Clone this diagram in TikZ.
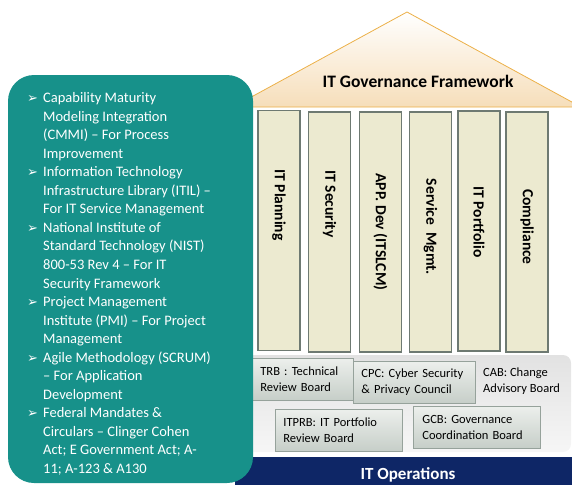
\documentclass[tikz,border=0pt]{standalone}
\usepackage{fontspec}
\setmainfont{Carlito}
\newfontfamily\symfont{DejaVu Sans}
\definecolor{tealbox}{RGB}{23,145,138}
\definecolor{roofline}{RGB}{236,176,72}
\definecolor{rooftan}{RGB}{238,196,140}
\definecolor{roofpale}{RGB}{246,222,186}
\definecolor{pillarfill}{RGB}{236,234,208}
\definecolor{pillarline}{RGB}{110,122,114}
\definecolor{navy}{RGB}{14,38,102}
\definecolor{boxtop}{RGB}{236,239,236}
\definecolor{boxbot}{RGB}{198,206,200}
\definecolor{boxline}{RGB}{150,162,155}
\definecolor{platftop}{RGB}{226,226,226}
\definecolor{platfbot}{RGB}{246,246,246}
\tikzset{
  pillar/.style={draw=pillarline, line width=1.8pt, fill=pillarfill, minimum width=42pt, minimum height=240pt, inner sep=0pt},
  ptext/.style={rotate=-90, font=\fontsize{15.5}{18}\selectfont\bfseries, inner sep=0pt},
  board/.style={draw=boxline, line width=0.8pt, top color=boxtop, bottom color=boxbot, align=left, font=\fontsize{12.5}{15.5}\selectfont, anchor=north west},
  bline/.style={text=white, font=\fontsize{14.5}{18}\selectfont, anchor=base west, inner sep=0pt},
}
\newcommand{\bul}{\makebox[16pt][l]{\symfont\fontsize{13}{15}\selectfont ➢}}
\begin{document}
\begin{tikzpicture}[x=1pt,y=-1pt]
\useasboundingbox (0,0) rectangle (572,485);
% roof
\shade[top color=white, middle color=rooftan, bottom color=roofpale, draw=roofline, line width=0.8pt]
  (233,107) -- (407,12) -- (581,107) -- cycle;
\node[font=\fontsize{17.5}{20}\selectfont\bfseries, inner sep=0pt] (roof) at (418,81) {IT Governance Framework};
% platform
\shade[rounded corners=8pt, top color=platftop, bottom color=platfbot] (238,355) rectangle (571,452);
% boards
\node[board, minimum width=108pt, minimum height=42pt, text width=78pt, inner xsep=15pt] (trb) at (245,358) {TRB : Technical\\Review Board};
\node[board, minimum width=122pt, minimum height=42pt, text width=106pt, inner xsep=8pt] (cpc) at (353,361) {CPC: Cyber Security\\\& Privacy Council};
\node[align=left, font=\fontsize{12.5}{15.5}\selectfont, anchor=west, inner sep=0pt] (cab) at (483,381) {CAB: Change\\Advisory Board};
\node[board, minimum width=127pt, minimum height=42pt, text width=111pt, inner xsep=8pt] (itprb) at (275,409) {ITPRB: IT Portfolio\\Review Board};
\node[board, minimum width=127pt, minimum height=42pt, text width=109pt, inner xsep=9pt] (gcb) at (413,406) {GCB: Governance\\Coordination Board};
% operations bar
\node[fill=navy, minimum width=337pt, minimum height=28pt, anchor=north west, inner sep=0pt] (ops) at (235,457) {};
\node[text=white, font=\fontsize{17}{19}\selectfont\bfseries, inner sep=0pt] (opst) at (408,475) {IT Operations};
% pillars
\node[pillar] (p1) at (279,230.5) {};
\node[pillar] (p2) at (329.5,232) {};
\node[pillar] (p3) at (380.5,232) {};
\node[pillar] (p4) at (430.5,232) {};
\node[pillar] (p5) at (479,231) {};
\node[pillar] (p6) at (527,232) {};
\node[ptext] (t1) at (279,205) {IT Planning};
\node[ptext] (t2) at (329.5,204) {IT Security};
\node[ptext] (t3) at (380.5,232) {APP. Dev (ITSLCM)};
\node[ptext] (t4) at (430.5,227) {Service\ \ Mgmt.};
\node[ptext] (t5) at (479,222) {IT Portfolio};
\node[ptext] (t6) at (527,227) {Compliance};
% teal panel
\fill[tealbox, rounded corners=26pt] (8,75) rectangle (253,483);
\node[bline] (l1) at (27,102.5) {\bul Capability Maturity};
\node[bline] (l2) at (43,121.05) {Modeling Integration};
\node[bline] (l3) at (43,139.6) {(CMMI) – For Process};
\node[bline] (l4) at (43,158.15) {Improvement};
\node[bline] (l5) at (27,176.7) {\bul Information Technology};
\node[bline] (l6) at (43,195.25) {Infrastructure Library (ITIL) –};
\node[bline] (l7) at (43,213.8) {For IT Service Management};
\node[bline] (l8) at (27,232.35) {\bul National Institute of};
\node[bline] (l9) at (43,250.9) {Standard Technology (NIST)};
\node[bline] (l10) at (43,269.45) {800-53 Rev 4 – For IT};
\node[bline] (l11) at (43,288.0) {Security Framework};
\node[bline] (l12) at (27,306.55) {\bul Project Management};
\node[bline] (l13) at (43,325.1) {Institute (PMI) – For Project};
\node[bline] (l14) at (43,343.65) {Management};
\node[bline] (l15) at (27,362.2) {\bul Agile Methodology (SCRUM)};
\node[bline] (l16) at (43,380.75) {– For Application};
\node[bline] (l17) at (43,399.3) {Development};
\node[bline] (l18) at (27,417.85) {\bul Federal Mandates \&};
\node[bline] (l19) at (43,436.4) {Circulars – Clinger Cohen};
\node[bline] (l20) at (43,454.95) {Act; E Government Act; A-};
\node[bline] (l21) at (43,473.5) {11; A-123 \& A130};
\end{tikzpicture}
\end{document}
